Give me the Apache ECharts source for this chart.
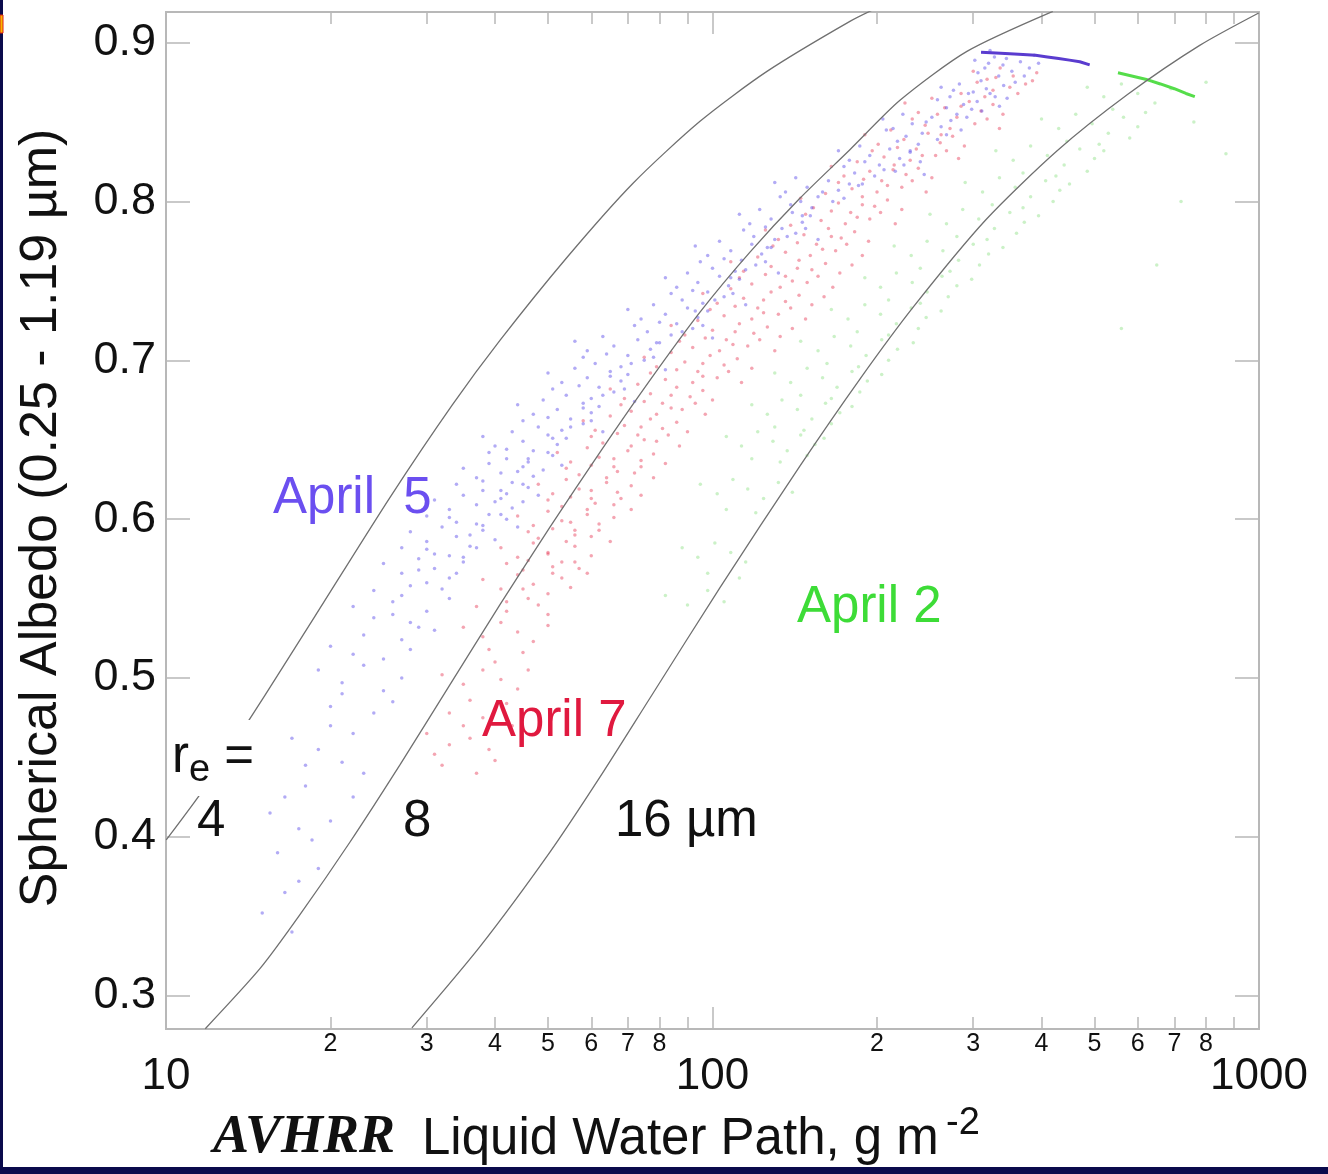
<!DOCTYPE html>
<html><head><meta charset="utf-8">
<script src="https://cdn.jsdelivr.net/npm/echarts@6/dist/echarts.min.js"></script>
<style>html,body{margin:0;padding:0;background:#fff}#c{width:1328px;height:1174px}</style>
</head><body><div id="c"></div>
<script>
// ---- axis ticks ----
const xMajorTicks = [10, 100, 1000];
const xMinorTicks = [20, 30, 40, 50, 60, 70, 80, 90, 200, 300, 400, 500, 600, 700, 800, 900];
const xMinorLabels = [20, 30, 40, 50, 60, 70, 80, 200, 300, 400, 500, 600, 700, 800];
const yTicks = [0.3, 0.4, 0.5, 0.6, 0.7, 0.8, 0.9];

// ---- theoretical curves (LWP g m-2, spherical albedo) ----
const curve4Lwp = [10.01, 11.70, 13.85, 15.19, 18.75, 25.72, 33.39, 40.87, 54.20, 71.55, 94.87, 125.8, 178.4, 202.5];
const curve4Alb = [0.3981, 0.4296, 0.4680, 0.4894, 0.5391, 0.6139, 0.6718, 0.7127, 0.7649, 0.8115, 0.8505, 0.8819, 0.9134, 0.9228];
const curve8Lwp = [11.80, 14.88, 17.61, 21.73, 26.83, 33.11, 40.87, 50.45, 62.27, 76.86, 94.87, 117.1, 144.5, 178.4, 220.3, 292.1, 419.5];
const curve8Alb = [0.2792, 0.3173, 0.3513, 0.3969, 0.4456, 0.4960, 0.5463, 0.5951, 0.6422, 0.6875, 0.7303, 0.7681, 0.8020, 0.8326, 0.8637, 0.8945, 0.9197];
const curve16Lwp = [28.18, 37.57, 50.45, 62.27, 76.86, 103.2, 144.5, 186.1, 233.7, 316.4, 426.7, 575.4, 778.9, 998.7];
const curve16Alb = [0.2797, 0.3310, 0.3905, 0.4377, 0.4874, 0.5569, 0.6334, 0.6882, 0.7341, 0.7885, 0.8318, 0.8675, 0.8983, 0.9187];

// ---- AVHRR retrievals ----
const april5 = [
[302,0.889],[315,0.884],[328,0.891],[340,0.886],[353,0.882],[366,0.888],[380,0.884],[395,0.887],[310,0.876],[334,0.879],[358,0.875],[322,0.895],
[306,0.881],[320,0.887],[345,0.89],[372,0.879],[388,0.892],[300,0.869],
[262,0.872],[272,0.866],[283,0.874],[294,0.868],[305,0.863],[317,0.871],[329,0.866],[341,0.873],[268,0.859],[288,0.861],[311,0.857],[335,0.86],
[258,0.864],[276,0.87],[298,0.858],[322,0.868],[346,0.865],[280,0.855],
[205,0.852],[214,0.846],[223,0.855],[232,0.849],[242,0.843],[252,0.853],[262,0.847],[273,0.851],[285,0.845],[218,0.838],[238,0.836],[258,0.839],
[208,0.845],[226,0.841],[246,0.85],[268,0.842],[292,0.853],[230,0.832],
[170,0.832],[178,0.826],[186,0.835],[194,0.829],[202,0.823],[211,0.833],[220,0.827],[230,0.831],[240,0.825],[182,0.818],[198,0.816],[216,0.819],
[174,0.822],[190,0.825],[206,0.82],[224,0.823],[244,0.817],[188,0.811],
[130,0.812],[136,0.806],[142,0.815],[149,0.809],[156,0.803],[163,0.813],[170,0.807],[178,0.811],[139,0.798],[152,0.796],[166,0.8],
[133,0.803],[145,0.8],[159,0.806],[174,0.802],[185,0.81],[146,0.791],
[112,0.792],[117,0.786],[122,0.795],[128,0.789],[134,0.783],[140,0.793],[146,0.787],[151,0.791],[119,0.778],[130,0.776],[142,0.78],
[114,0.782],[125,0.784],[137,0.778],[148,0.783],[156,0.776],[126,0.771],
[93,0.772],[98,0.766],[103,0.775],[108,0.769],[113,0.763],[118,0.773],[123,0.767],[128,0.771],[100,0.758],[110,0.756],[120,0.76],
[95,0.762],[105,0.764],[115,0.757],[125,0.762],[132,0.755],[108,0.752],
[82,0.752],[86,0.746],[90,0.755],[94,0.749],[98,0.743],[103,0.753],[107,0.747],[112,0.751],[88,0.738],[96,0.736],[105,0.74],
[84,0.742],[92,0.744],[101,0.738],[109,0.742],[115,0.735],[93,0.731],
[70,0.732],[74,0.726],[78,0.735],[82,0.729],[86,0.723],[90,0.733],[94,0.727],[98,0.731],[76,0.718],[84,0.716],[92,0.72],
[72,0.722],[80,0.724],[88,0.718],[96,0.722],[100,0.714],[79,0.711],
[56,0.712],[59,0.706],[63,0.715],[66,0.709],[70,0.703],[73,0.713],[77,0.707],[80,0.711],[61,0.698],[68,0.696],[75,0.7],
[58,0.702],[64,0.704],[71,0.698],[78,0.702],[82,0.694],[65,0.69],
[50,0.692],[53,0.686],[56,0.695],[59,0.689],[62,0.683],[65,0.693],[68,0.687],[70,0.691],[54,0.678],[60,0.676],[66,0.68],
[51,0.682],[57,0.684],[63,0.678],[69,0.682],[72,0.674],[58,0.67],
[44,0.672],[47,0.666],[49,0.675],[52,0.669],[55,0.663],[58,0.673],[60,0.667],[62,0.671],[48,0.658],[53,0.656],[58,0.66],
[45,0.662],[50,0.664],[55,0.658],[60,0.662],[63,0.655],[51,0.651],
[38,0.652],[40,0.646],[43,0.655],[45,0.649],[47,0.643],[50,0.653],[52,0.647],[54,0.651],[42,0.638],[46,0.636],[51,0.64],
[39,0.642],[42,0.644],[46,0.638],[50,0.642],[53,0.634],[44,0.63],
[35,0.632],[37,0.626],[39,0.635],[41,0.629],[43,0.623],[45,0.633],[47,0.627],[49,0.631],[38,0.618],[42,0.616],[46,0.62],
[34,0.622],[38,0.624],[41,0.618],[45,0.622],[48,0.615],[40,0.611],
[31,0.612],[33,0.606],[35,0.615],[37,0.609],[39,0.603],[41,0.613],[43,0.607],[45,0.611],[34,0.598],[38,0.596],[42,0.6],
[30,0.602],[33,0.601],[37,0.597],[41,0.603],[44,0.595],[36,0.59],
[28,0.592],[30,0.586],[32,0.595],[34,0.589],[36,0.583],[38,0.593],[40,0.587],[31,0.578],[35,0.576],
[27,0.582],[30,0.581],[33,0.577],[37,0.582],[29,0.568],[34,0.566],
[25,0.572],[27,0.566],[29,0.575],[31,0.569],[33,0.563],[35,0.573],[28,0.558],[32,0.556],
[24,0.555],[27,0.552],[30,0.56],[33,0.55],[26,0.54],[29,0.532],
[22,0.545],[24,0.538],[26,0.548],[28,0.535],[30,0.542],[23,0.527],[27,0.524],[31,0.53],
[20,0.52],[22,0.515],[25,0.512],[28,0.518],[21,0.49],[26,0.485],
[19,0.505],[21,0.497],[23,0.508],[25,0.492],[27,0.5],[20,0.482],[24,0.478],
[17,0.462],[19,0.455],[21,0.447],[23,0.44],[18,0.432],[22,0.465],
[18,0.445],[20,0.47],[16.5,0.425],[22,0.425],[18.5,0.398],[17.5,0.372],
[15.5,0.415],[17.5,0.405],[16,0.39],[19,0.38],[20,0.41],
[15,0.352],[17,0.34],[16.5,0.365]
];
const april5EdgeLwp = [310, 330, 350, 370, 390, 410, 430, 450, 470, 490];
const april5EdgeAlb = [0.894, 0.8935, 0.893, 0.8925, 0.892, 0.891, 0.890, 0.889, 0.888, 0.886];

const april7 = [
[300,0.882],[318,0.877],[336,0.884],[355,0.879],[374,0.874],[392,0.881],[326,0.87],[362,0.868],
[305,0.875],[330,0.878],[350,0.872],[385,0.876],[285,0.868],[315,0.866],
[225,0.862],[238,0.856],[252,0.865],[266,0.859],[280,0.853],[295,0.863],[310,0.857],[326,0.861],[340,0.855],[245,0.848],[272,0.846],[302,0.849],
[232,0.852],[258,0.855],[285,0.86],[318,0.852],[335,0.846],[262,0.842],
[190,0.842],[201,0.836],[212,0.845],[224,0.839],[236,0.833],[248,0.843],[261,0.837],[275,0.841],[289,0.835],[206,0.828],[230,0.826],[256,0.829],
[196,0.832],[218,0.834],[242,0.829],[268,0.832],[282,0.827],[214,0.82],
[165,0.822],[174,0.816],[184,0.825],[194,0.819],[204,0.813],[215,0.823],[226,0.817],[238,0.821],[252,0.815],[180,0.808],[200,0.806],[222,0.809],
[170,0.812],[189,0.814],[209,0.81],[232,0.813],[246,0.806],[188,0.798],
[145,0.802],[153,0.796],[161,0.805],[170,0.799],[179,0.793],[188,0.803],[198,0.797],[209,0.801],[222,0.795],[158,0.788],[175,0.786],[194,0.789],
[148,0.792],[165,0.794],[184,0.79],[203,0.793],[216,0.786],[165,0.778],
[125,0.782],[132,0.776],[139,0.785],[147,0.779],[155,0.773],[163,0.783],[172,0.777],[182,0.781],[193,0.775],[136,0.768],[151,0.766],[168,0.769],
[129,0.772],[143,0.774],[159,0.77],[176,0.773],[188,0.766],[143,0.758],
[108,0.762],[114,0.756],[121,0.765],[128,0.759],[136,0.753],[144,0.763],[152,0.757],[161,0.761],[171,0.755],[180,0.76],[118,0.748],[133,0.746],[149,0.749],
[112,0.752],[125,0.754],[140,0.75],[156,0.753],[166,0.746],[124,0.738],
[96,0.742],[102,0.736],[108,0.745],[114,0.739],[121,0.733],[128,0.743],[136,0.737],[144,0.741],[152,0.735],[160,0.74],[105,0.728],[118,0.726],[132,0.729],
[99,0.732],[110,0.734],[124,0.73],[139,0.733],[148,0.726],[110,0.718],
[84,0.722],[89,0.716],[94,0.725],[100,0.719],[106,0.713],[112,0.723],[119,0.717],[126,0.721],[133,0.715],[140,0.72],[92,0.708],[103,0.706],[116,0.709],
[87,0.712],[97,0.714],[109,0.71],[122,0.713],[130,0.706],[96,0.698],
[75,0.702],[79,0.696],[84,0.705],[89,0.699],[94,0.693],[99,0.703],[105,0.697],[111,0.701],[118,0.695],[82,0.688],[92,0.686],[102,0.689],
[77,0.692],[86,0.694],[96,0.69],[107,0.693],[113,0.686],[84,0.678],
[65,0.682],[69,0.676],[73,0.685],[77,0.679],[81,0.673],[86,0.683],[91,0.677],[96,0.681],[100,0.675],[71,0.668],[79,0.666],[88,0.669],
[68,0.672],[75,0.674],[84,0.67],[93,0.673],[97,0.666],[74,0.658],
[58,0.662],[61,0.656],[65,0.665],[69,0.659],[73,0.653],[77,0.663],[81,0.657],[86,0.661],[90,0.655],[63,0.648],[71,0.646],[79,0.649],
[60,0.652],[67,0.654],[75,0.65],[83,0.653],[87,0.646],[66,0.638],
[52,0.642],[55,0.636],[59,0.645],[62,0.639],[66,0.633],[70,0.643],[74,0.637],[78,0.641],[82,0.635],[57,0.628],[64,0.626],[72,0.629],
[54,0.632],[60,0.634],[67,0.63],[74,0.633],[78,0.626],[60,0.618],
[48,0.622],[51,0.616],[54,0.625],[57,0.619],[60,0.613],[64,0.623],[67,0.617],[71,0.621],[74,0.615],[53,0.608],[59,0.606],[66,0.609],
[50,0.612],[55,0.614],[61,0.61],[68,0.613],[71,0.606],[55,0.598],
[44,0.602],[47,0.596],[50,0.605],[53,0.599],[56,0.593],[59,0.603],[62,0.597],[66,0.601],[48,0.588],[54,0.586],[60,0.589],
[46,0.592],[51,0.594],[56,0.59],[62,0.593],[65,0.586],[50,0.578],
[41,0.582],[44,0.576],[47,0.585],[50,0.579],[53,0.573],[56,0.583],[60,0.577],[45,0.568],[51,0.566],[57,0.569],
[42,0.572],[46,0.574],[51,0.57],[56,0.573],[59,0.566],[45,0.556],
[38,0.562],[41,0.556],[44,0.565],[47,0.559],[50,0.553],[53,0.563],[55,0.557],[42,0.548],[48,0.546],
[37,0.545],[42,0.542],[46,0.55],[50,0.54],[40,0.51],[46,0.505],
[35,0.532],[38,0.526],[41,0.535],[44,0.529],[47,0.523],[50,0.533],[39,0.518],[45,0.516],
[32,0.502],[35,0.496],[38,0.505],[41,0.499],[44,0.493],[36,0.486],[42,0.484],
[33,0.478],[38,0.475],[43,0.47],[35,0.47],[31,0.452],[40,0.448],
[30,0.465],[33,0.458],[36,0.462],[39,0.455],[32,0.445],[37,0.44]
];

const april2 = [
[485,0.872],[520,0.866],[560,0.874],[600,0.868],[645,0.862],[690,0.871],[540,0.858],[620,0.856],
[400,0.852],[430,0.846],[462,0.855],[495,0.849],[530,0.843],[565,0.853],[600,0.847],[445,0.838],[510,0.836],[580,0.84],
[330,0.832],[355,0.826],[382,0.835],[410,0.829],[440,0.823],[470,0.833],[500,0.827],[520,0.832],[370,0.818],[425,0.816],[485,0.819],
[290,0.812],[312,0.806],[335,0.815],[358,0.809],[382,0.803],[407,0.813],[432,0.807],[450,0.811],[325,0.798],[370,0.796],[420,0.8],
[250,0.792],[268,0.786],[287,0.795],[307,0.789],[328,0.783],[350,0.793],[372,0.787],[395,0.791],[280,0.778],[318,0.776],[360,0.78],
[215,0.772],[231,0.766],[247,0.775],[264,0.769],[282,0.763],[300,0.773],[320,0.767],[340,0.771],[240,0.758],[272,0.756],[308,0.76],
[190,0.752],[203,0.746],[217,0.755],[232,0.749],[247,0.743],[263,0.753],[280,0.747],[298,0.751],[210,0.738],[240,0.736],[270,0.74],
[165,0.732],[177,0.726],[190,0.735],[203,0.729],[217,0.723],[231,0.733],[246,0.727],[262,0.731],[184,0.718],[210,0.716],[238,0.72],
[145,0.712],[156,0.706],[167,0.715],[179,0.709],[191,0.703],[204,0.713],[218,0.707],[233,0.711],[162,0.698],[185,0.696],[210,0.7],
[130,0.692],[139,0.686],[149,0.695],[159,0.689],[169,0.683],[180,0.693],[192,0.687],[204,0.691],[145,0.678],[165,0.676],[186,0.68],
[118,0.672],[126,0.666],[134,0.675],[143,0.669],[152,0.663],[161,0.673],[171,0.667],[180,0.671],[130,0.658],[147,0.656],[165,0.66],
[106,0.652],[113,0.646],[121,0.655],[129,0.649],[137,0.643],[145,0.653],[154,0.647],[160,0.651],[118,0.638],[133,0.636],[149,0.64],
[95,0.622],[102,0.616],[109,0.625],[116,0.619],[124,0.613],[132,0.623],[140,0.617],[106,0.606],[120,0.604],
[88,0.582],[94,0.576],[101,0.585],[108,0.579],[115,0.573],[98,0.566],[112,0.563],
[82,0.552],[90,0.546],[98,0.555],[105,0.548],
[760,0.85],[870,0.83],[720,0.8],[650,0.76],[560,0.72],[800,0.875]
];
const april2EdgeLwp = [552, 585, 620, 660, 700, 735, 763];
const april2EdgeAlb = [0.881, 0.879, 0.877, 0.874, 0.871, 0.868, 0.866];

const zip = (a, b) => a.map((v, i) => [v, b[i]]);

const GRAY = '#b8b8b8';
const FONT = '"Liberation Sans", Arial, sans-serif';

function xAxisDef(position, ticks, len, labelVals, labelOpt) {
  return {
    type: 'log', logBase: 10, min: 10, max: 1000, position: position,
    axisLine: { show: true, onZero: false, lineStyle: { color: GRAY, width: 2 } },
    axisTick: { show: true, inside: true, length: len, customValues: ticks, lineStyle: { color: GRAY, width: 1.5 } },
    axisLabel: labelVals ? Object.assign({ show: true, customValues: labelVals, fontFamily: FONT, color: '#111' }, labelOpt) : { show: false },
    splitLine: { show: false }, minorTick: { show: false }
  };
}
function yAxisDef(position, showLabel) {
  return {
    type: 'value', min: 0.279, max: 0.9193, position: position,
    axisLine: { show: true, onZero: false, lineStyle: { color: GRAY, width: 2 } },
    axisTick: { show: true, inside: true, length: 24, customValues: yTicks, lineStyle: { color: GRAY, width: 1.5 } },
    axisLabel: showLabel ? { show: true, customValues: yTicks, formatter: v => v.toFixed(1), fontSize: 45, fontFamily: FONT, color: '#111', margin: 10 } : { show: false },
    splitLine: { show: false }
  };
}

const firstDigit = v => String(Math.round(v / Math.pow(10, Math.floor(Math.log10(v) + 1e-9))));

const curveStyle = { color: '#707070', width: 1.3 };
const option = {
  backgroundColor: '#ffffff',
  animation: false,
  grid: { left: 166, top: 12, width: 1093, height: 1017, containLabel: false },
  xAxis: [
    xAxisDef('bottom', xMajorTicks, 22, xMajorTicks, { fontSize: 44, margin: 26, formatter: v => String(Math.round(v)) }),
    xAxisDef('bottom', xMinorTicks, 12, xMinorLabels, { fontSize: 25, margin: 3, formatter: firstDigit }),
    xAxisDef('top', xMajorTicks, 22, null),
    xAxisDef('top', xMinorTicks, 12, null)
  ],
  yAxis: [yAxisDef('left', true), yAxisDef('right', false)],
  series: [
    { name: 'April 2', type: 'scatter', data: april2, symbolSize: 3.5, itemStyle: { color: 'rgba(110,215,100,0.45)' }, z: 2 },
    { name: 'April 7', type: 'scatter', data: april7, symbolSize: 3.5, itemStyle: { color: 'rgba(230,50,80,0.55)' }, z: 2 },
    { name: 'April 5', type: 'scatter', data: april5, symbolSize: 3.5, itemStyle: { color: 'rgba(95,80,235,0.6)' }, z: 3 },
    { name: 'April 5 edge', type: 'line', data: zip(april5EdgeLwp, april5EdgeAlb), showSymbol: false, lineStyle: { color: '#5a3ccf', width: 3 }, z: 4 },
    { name: 'April 2 edge', type: 'line', data: zip(april2EdgeLwp, april2EdgeAlb), showSymbol: false, lineStyle: { color: '#55dd4a', width: 3 }, z: 4 },
    { name: 're 4', type: 'line', data: zip(curve4Lwp, curve4Alb), smooth: 0.25, showSymbol: false, lineStyle: curveStyle, z: 5 },
    { name: 're 8', type: 'line', data: zip(curve8Lwp, curve8Alb), smooth: 0.25, showSymbol: false, lineStyle: curveStyle, z: 5 },
    { name: 're 16', type: 'line', data: zip(curve16Lwp, curve16Alb), smooth: 0.25, showSymbol: false, lineStyle: curveStyle, z: 5 }
  ],
  graphic: [
    { type: 'rect', shape: { x: 0, y: 0, width: 3, height: 1174 }, style: { fill: '#0a0a4c' }, z: 100 },
    { type: 'rect', shape: { x: 0, y: 1167, width: 1328, height: 7 }, style: { fill: '#0a0a4c' }, z: 100 },
    { type: 'rect', shape: { x: 0, y: 15, width: 3, height: 18 }, style: { fill: '#f6b800', stroke: '#e02010', lineWidth: 1 }, z: 101 },
    { type: 'text', x: 42, y: 518, rotation: Math.PI / 2, z: 100,
      style: { text: 'Spherical Albedo (0.25 - 1.19 µm)', font: '52px ' + FONT, fill: '#111', align: 'center', verticalAlign: 'middle' } },
    { type: 'text', x: 213, y: 1138, z: 100,
      style: { text: 'AVHRR', font: 'italic bold 54px "Liberation Serif", "Times New Roman", serif', fill: '#111', align: 'left', verticalAlign: 'middle' } },
    { type: 'text', x: 422, y: 1140, z: 100,
      style: { text: 'Liquid Water Path, g m', font: '51px ' + FONT, fill: '#111', align: 'left', verticalAlign: 'middle' } },
    { type: 'text', x: 946, y: 1124, z: 100,
      style: { text: '-2', font: '38px ' + FONT, fill: '#111', align: 'left', verticalAlign: 'middle' } },
    { type: 'text', x: 273, y: 499, z: 100,
      style: { text: 'April  5', font: '51px ' + FONT, fill: '#6b4ff0', align: 'left', verticalAlign: 'middle' } },
    { type: 'text', x: 482, y: 722, z: 100,
      style: { text: 'April 7', font: '51px ' + FONT, fill: '#e0193f', align: 'left', verticalAlign: 'middle' } },
    { type: 'text', x: 797, y: 608, z: 100,
      style: { text: 'April 2', font: '51px ' + FONT, fill: '#3ddc37', align: 'left', verticalAlign: 'middle' } },
    { type: 'text', x: 170, y: 758, z: 100,
      style: { text: '{r|r}{e|e}{q| =}', backgroundColor: '#fff', padding: [6, 2, 6, 2], align: 'left', verticalAlign: 'middle',
        rich: { r: { font: '51px ' + FONT, fill: '#111' }, e: { font: '38px ' + FONT, fill: '#111', padding: [26, 0, 0, 0] }, q: { font: '51px ' + FONT, fill: '#111' } } } },
    { type: 'text', x: 197, y: 822, z: 100,
      style: { text: '4', font: '51px ' + FONT, fill: '#111', align: 'left', verticalAlign: 'middle' } },
    { type: 'text', x: 403, y: 822, z: 100,
      style: { text: '8', font: '51px ' + FONT, fill: '#111', align: 'left', verticalAlign: 'middle' } },
    { type: 'text', x: 615, y: 822, z: 100,
      style: { text: '16 µm', font: '51px ' + FONT, fill: '#111', align: 'left', verticalAlign: 'middle' } }
  ]
};
const chart = echarts.init(document.getElementById('c'), null, { renderer: 'canvas' });
chart.setOption(option);
</script>
</body></html>
